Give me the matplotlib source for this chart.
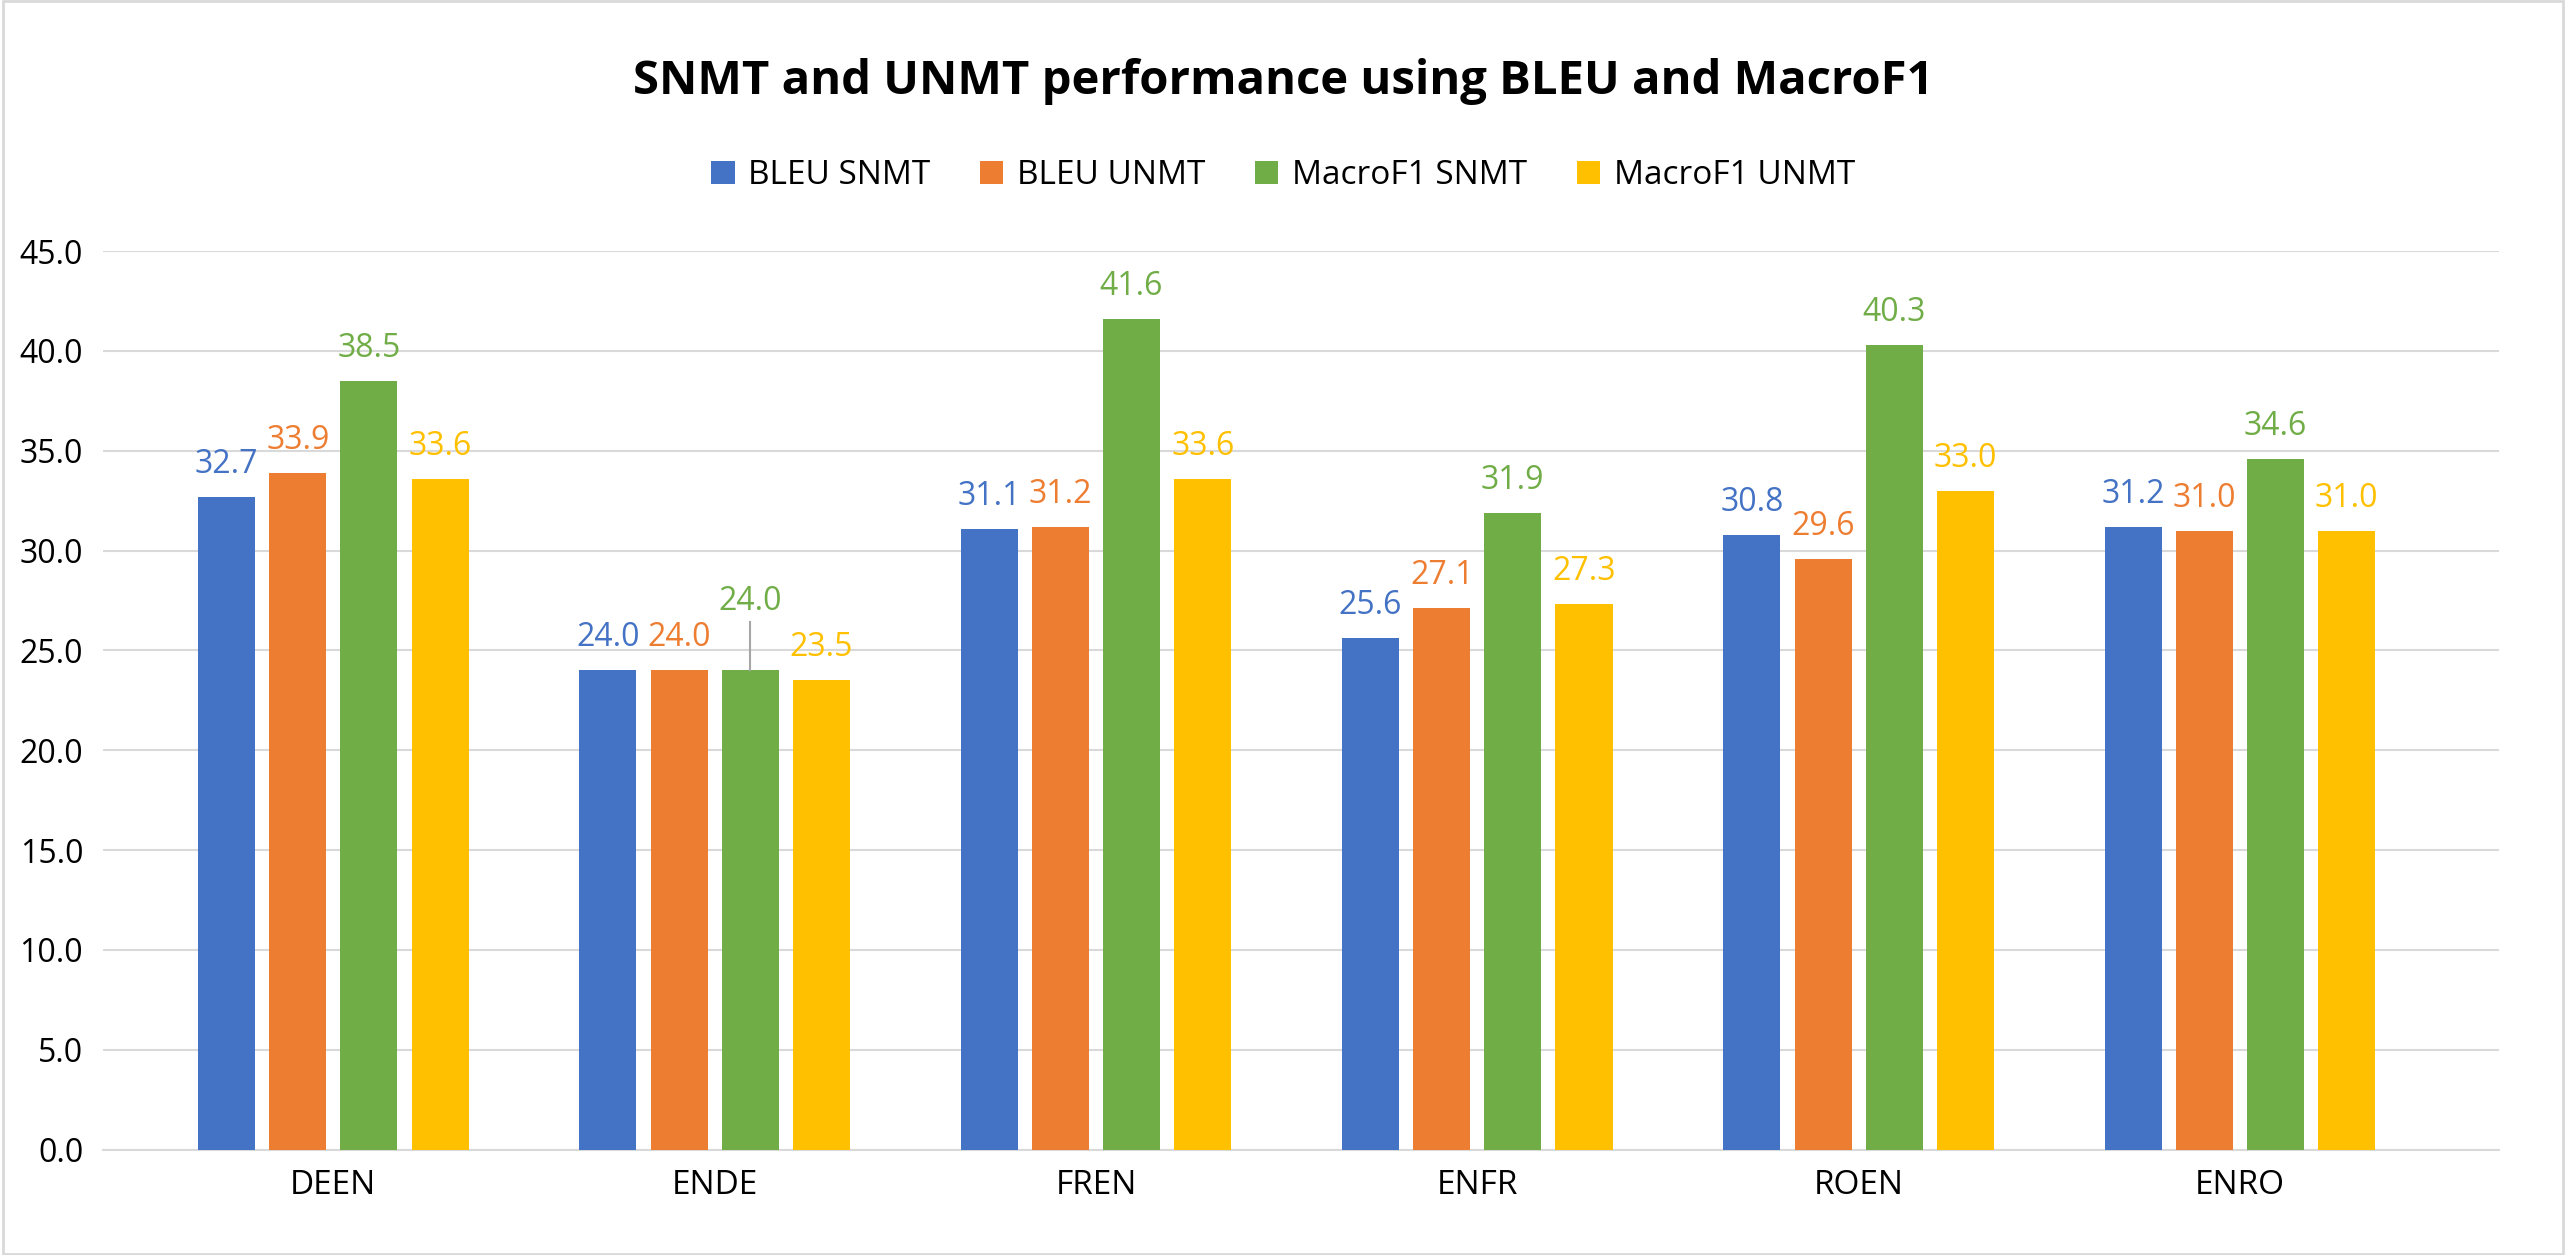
import matplotlib
matplotlib.use("Agg")
import matplotlib.pyplot as plt
import numpy as np
from matplotlib.patches import Rectangle

categories = ["DEEN", "ENDE", "FREN", "ENFR", "ROEN", "ENRO"]
series_names = ["BLEU SNMT", "BLEU UNMT", "MacroF1 SNMT", "MacroF1 UNMT"]
bleu_snmt = [32.7, 24.0, 31.1, 25.6, 30.8, 31.2]
bleu_unmt = [33.9, 24.0, 31.2, 27.1, 29.6, 31.0]
macro_snmt = [38.5, 24.0, 41.6, 31.9, 40.3, 34.6]
macro_unmt = [33.6, 23.5, 33.6, 27.3, 33.0, 31.0]
colors = ["#4472C4", "#ED7D31", "#70AD47", "#FFC000"]

plt.rcParams['font.family'] = ['Open Sans', 'DejaVu Sans']
fig = plt.figure(figsize=(25.66, 12.55), dpi=100)
ax = fig.add_axes([0.04, 0.084, 0.934, 0.716])
x = np.arange(len(categories))
offsets = [-0.28, -0.093, 0.093, 0.28]
for vals, name, c, off in zip([bleu_snmt, bleu_unmt, macro_snmt, macro_unmt], series_names, colors, offsets):
    ax.bar(x + off, vals, width=0.15, color=c, label=name, zorder=3)
    for xi, v in zip(x, vals):
        dy = 0.8
        if name == "MacroF1 SNMT" and categories[xi] == "ENDE":
            dy = 2.6
            ax.plot([xi + off, xi + off], [v, v + 2.4], color="#A6A6A6", lw=1.5, zorder=4)
        ax.text(xi + off, v + dy, f"{v:.1f}", ha="center", va="bottom", color=c, fontsize=23)

ax.set_xlim(-0.605, 5.68)
ax.set_ylim(0, 45)
ax.set_yticks(np.arange(0, 45.1, 5))
ax.set_yticklabels([f"{t:.1f}" for t in np.arange(0, 45.1, 5)], fontsize=23)
ax.set_xticks(x)
ax.set_xticklabels(categories, fontsize=24)
ax.grid(axis="y", color="#D9D9D9", lw=1.5, zorder=0)
for s in ["top", "right", "left"]:
    ax.spines[s].set_visible(False)
ax.spines["bottom"].set_color("#D9D9D9")
ax.spines["bottom"].set_linewidth(1.5)
ax.tick_params(length=0, pad=14)

fig.text(0.5, 0.935, "SNMT and UNMT performance using BLEU and MacroF1", ha="center", va="center",
         fontsize=34, fontweight="bold")
fig.legend(loc="center", bbox_to_anchor=(0.5, 0.86), ncol=4, frameon=False, fontsize=24,
           handlelength=0.7, handleheight=0.7, columnspacing=1.5, handletextpad=0.4)
fig.patches.append(Rectangle((0.001, 0.001), 0.998, 0.998, transform=fig.transFigure,
                             fill=False, edgecolor="#D9D9D9", lw=2))
fig.savefig("out.png", dpi=100)
